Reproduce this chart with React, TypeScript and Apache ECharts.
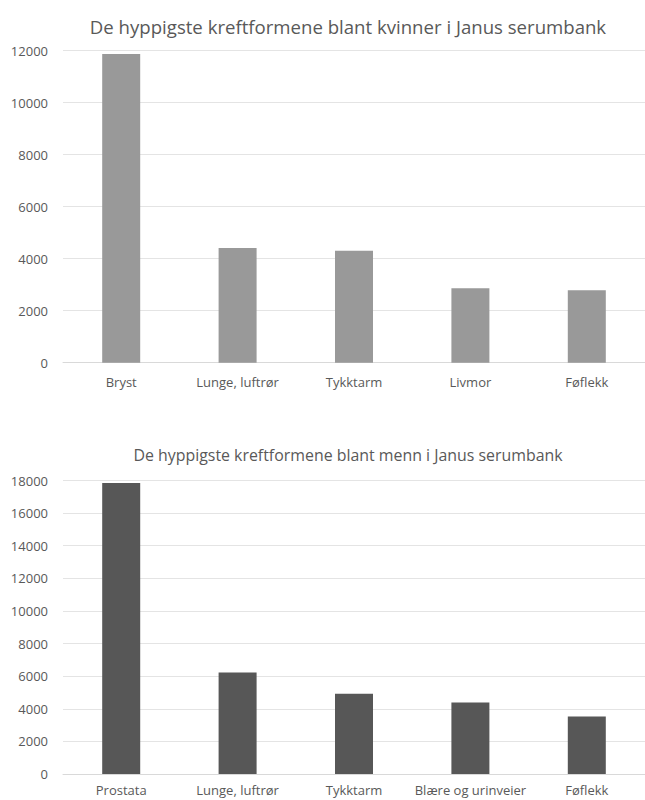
import React, { useEffect, useRef } from "react";
import * as echarts from "echarts";

const womenTitle = "De hyppigste kreftformene blant kvinner i Janus serumbank";
const menTitle = "De hyppigste kreftformene blant menn i Janus serumbank";
const womenCategories = ["Bryst", "Lunge, luftrør", "Tykktarm", "Livmor", "Føflekk"];
const womenValues = [11870, 4410, 4310, 2860, 2790];
const menCategories = ["Prostata", "Lunge, luftrør", "Tykktarm", "Blære og urinveier", "Føflekk"];
const menValues = [17850, 6230, 4920, 4390, 3520];

const FONT = "'Open Sans', sans-serif";
const TEXT = "#595959";
const GRID = "#e4e4e4";

export default function App() {
  const ref = useRef<HTMLDivElement>(null);
  useEffect(() => {
    if (!ref.current) return;
    const chart = echarts.init(ref.current, undefined, { renderer: "svg" });
    const yAxisCommon = {
      type: "value",
      min: 0,
      interval: 2000,
      axisLine: { show: false },
      axisTick: { show: false },
      splitLine: { lineStyle: { color: GRID, width: 1 } },
      axisLabel: {
        color: TEXT,
        fontSize: 13,
        fontFamily: FONT,
        margin: 15,
        formatter: (v: number) => String(v),
      },
    };
    const xAxisCommon = {
      type: "category",
      axisLine: { lineStyle: { color: "#d9d9d9", width: 1 } },
      axisTick: { show: false },
    };
    chart.setOption({
      animation: false,
      backgroundColor: "#ffffff",
      graphic: [
        {
          type: "text",
          x: 348,
          y: 26,
          style: { text: womenTitle, align: "center", verticalAlign: "middle", fontSize: 18.6, fontFamily: FONT, fill: TEXT },
        },
        {
          type: "text",
          x: 348,
          y: 455,
          style: { text: menTitle, align: "center", verticalAlign: "middle", fontSize: 15.9, fontFamily: FONT, fill: TEXT },
        },
      ],
      grid: [
        { left: 63, width: 620, top: 50.7, height: 312 },
        { left: 63, width: 620, top: 480.5, height: 293.5 },
      ],
      xAxis: [
        {
          ...xAxisCommon,
          gridIndex: 0,
          data: womenCategories,
          axisLabel: { color: TEXT, fontSize: 13, fontFamily: FONT, margin: 13, interval: 0 },
        },
        {
          ...xAxisCommon,
          gridIndex: 1,
          data: menCategories,
          axisLabel: { color: TEXT, fontSize: 13, fontFamily: FONT, margin: 8, interval: 0, lineHeight: 16 },
        },
      ],
      yAxis: [
        { ...yAxisCommon, gridIndex: 0, max: 12000 },
        { ...yAxisCommon, gridIndex: 1, max: 18000 },
      ],
      series: [
        {
          type: "bar",
          name: "Kvinner",
          xAxisIndex: 0,
          yAxisIndex: 0,
          data: womenValues,
          barWidth: 38,
          itemStyle: { color: "#999999" },
        },
        {
          type: "bar",
          name: "Menn",
          xAxisIndex: 1,
          yAxisIndex: 1,
          data: menValues,
          barWidth: 38,
          itemStyle: { color: "#575757" },
        },
      ],
    });
    return () => chart.dispose();
  }, []);
  return (
    <div
      ref={ref}
      style={{ position: "fixed", left: 0, top: 0, width: 645, height: 800, background: "#fff" }}
    />
  );
}
